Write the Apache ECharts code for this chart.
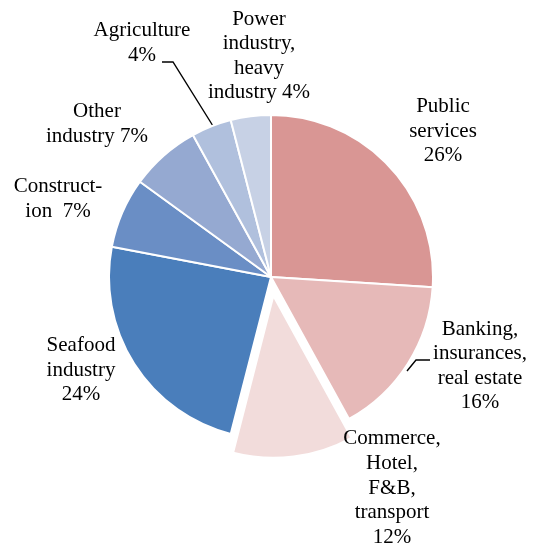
<!DOCTYPE html>
<html>
<head>
<meta charset="utf-8">
<script src="https://cdn.jsdelivr.net/npm/echarts@6/dist/echarts.min.js"></script>
<style>
  html, body { margin: 0; padding: 0; background: #fff; }
  #chart { width: 534px; height: 547px; }
</style>
</head>
<body>
<div id="chart"></div>
<script>
// Sector shares (percent), clockwise from 12 o'clock
const categories = [
  'Public\nservices\n',
  'Banking,\ninsurances,\nreal estate\n',
  'Commerce,\nHotel,\nF&B,\ntransport\n',
  'Seafood\nindustry\n',
  'Construct-\nion  ',
  'Other\nindustry ',
  'Agriculture\n',
  'Power\nindustry,\nheavy\nindustry '
];
const shares = [26, 16, 12, 24, 7, 7, 4, 4];
const explodedIndex = 2;

const colors = ['#D99694', '#E6B9B8', '#F2DCDB', '#4A7EBB', '#6A8EC5', '#95A9D1', '#B0C0DD', '#C7D1E5'];

const pieCenter = [271, 277];
const pieRadius = 162;
const explodeDistance = 19;

// label anchor (centre of each text block)
const labelCenters = [
  [443, 131], [480, 366], [392, 488], [81, 370],
  [58, 199], [97, 124], [142, 43], [259, 56]
];
// leader lines: start on the sector, elbow, end beside the text
const leaders = {
  1: [[407, 371], [416, 360], [430, 360]],
  6: [[213, 126], [173, 62], [162, 62]]
};

// the exploded slice is pushed out along its own bisector
const total = shares.reduce((a, b) => a + b, 0);
const before = shares.slice(0, explodedIndex).reduce((a, b) => a + b, 0);
const midAngle = (before + shares[explodedIndex] / 2) / total * 2 * Math.PI;
const explodedCenter = [
  pieCenter[0] + explodeDistance * Math.sin(midAngle),
  pieCenter[1] - explodeDistance * Math.cos(midAngle)
];

const fontStyle = {
  fontFamily: '"Liberation Serif", "Times New Roman", serif',
  fontSize: 21,
  lineHeight: 24.6,
  color: '#000'
};

const chart = echarts.init(document.getElementById('chart'), null, { renderer: 'canvas' });

// main pie: every slice except the exploded one, plus all labels
const mainData = categories.map((name, i) => ({
  name: name,
  value: shares[i],
  itemStyle: i === explodedIndex
    ? { color: 'rgba(0,0,0,0)', borderWidth: 0 }
    : { color: colors[i] },
  labelLine: { show: leaders[i] !== undefined }
}));

// exploded slice: same angles, drawn alone from a shifted centre
const explodedData = categories.map((name, i) => ({
  name: name,
  value: shares[i],
  itemStyle: i === explodedIndex
    ? { color: colors[i] }
    : { color: 'rgba(0,0,0,0)', borderWidth: 0 }
}));

chart.setOption({
  animation: false,
  series: [{
    type: 'pie',
    center: pieCenter,
    radius: pieRadius,
    startAngle: 90,
    clockwise: true,
    silent: true,
    avoidLabelOverlap: false,
    itemStyle: { borderColor: '#ffffff', borderWidth: 2 },
    label: Object.assign({
      show: true,
      position: 'outside',
      formatter: p => p.name + p.value + '%',
      align: 'center'
    }, fontStyle),
    labelLine: {
      show: false,
      lineStyle: { color: '#000', width: 1.4 }
    },
    labelLayout: params => {
      const i = params.dataIndex;
      const c = labelCenters[i];
      const out = { x: c[0], y: c[1], align: 'center', verticalAlign: 'middle' };
      if (leaders[i]) out.labelLinePoints = leaders[i];
      return out;
    },
    data: mainData
  }, {
    type: 'pie',
    center: explodedCenter,
    radius: pieRadius,
    startAngle: 90,
    clockwise: true,
    silent: true,
    itemStyle: { borderColor: '#ffffff', borderWidth: 2 },
    label: { show: false },
    labelLine: { show: false },
    data: explodedData
  }]
});
</script>
</body>
</html>
